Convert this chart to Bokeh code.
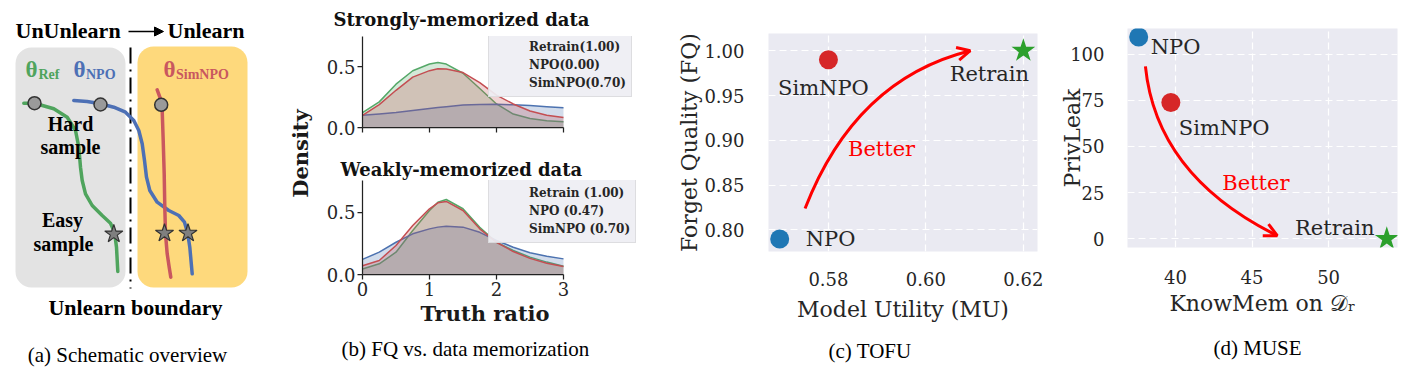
import math
from bokeh.plotting import figure
from bokeh.models import (Range1d, BoxAnnotation, Arrow, NormalHead, OpenHead, Title,
                          Legend, LegendItem, FixedTicker, PrintfTickFormatter, ColumnDataSource)
from bokeh.layouts import row, column
from bokeh.core.properties import value
from bokeh.embed import file_html
from bokeh.resources import INLINE

# ---------------- (b) truth-ratio densities ----------------
truth_ratio = [0, 0.25, 0.5, 0.75, 1.0, 1.125, 1.25, 1.5, 1.75, 2.0, 2.25, 2.5, 2.75, 3.0]
strong_retrain = [0.122, 0.21, 0.355, 0.465, 0.52, 0.533, 0.52, 0.445, 0.32, 0.193, 0.11, 0.074, 0.056, 0.048]
strong_npo = [0.10, 0.111, 0.122, 0.139, 0.156, 0.164, 0.171, 0.185, 0.189, 0.19, 0.186, 0.18, 0.171, 0.161]
strong_simnpo = [0.10, 0.188, 0.305, 0.413, 0.466, 0.482, 0.48, 0.45, 0.368, 0.265, 0.193, 0.135, 0.10, 0.082]
weak_retrain = [0.045, 0.086, 0.18, 0.355, 0.516, 0.583, 0.605, 0.53, 0.38, 0.26, 0.194, 0.14, 0.10, 0.067]
weak_npo = [0.122, 0.18, 0.26, 0.328, 0.368, 0.382, 0.39, 0.382, 0.34, 0.274, 0.22, 0.175, 0.148, 0.126]
weak_simnpo = [0.07, 0.113, 0.234, 0.395, 0.53, 0.578, 0.589, 0.516, 0.368, 0.26, 0.185, 0.13, 0.09, 0.065]
strong_labels = ["Retrain(1.00)", "NPO(0.00)", "SimNPO(0.70)"]
weak_labels = ["Retrain (1.00)", "NPO (0.47)", "SimNPO (0.70)"]
density_ticks_x = [0, 1, 2, 3]
density_ticks_y = [0.0, 0.5]

# ---------------- (c) TOFU / (d) MUSE ----------------
methods = ["NPO", "SimNPO", "Retrain"]
tofu_mu = [0.570, 0.580, 0.620]
tofu_fq = [0.790, 0.990, 1.000]
tofu_ticks_x = [0.58, 0.60, 0.62]
tofu_ticks_y = [0.80, 0.85, 0.90, 0.95, 1.00]
muse_knowmem = [37.6, 39.7, 53.8]
muse_privleak = [109.2, 73.8, 0.0]
muse_ticks_x = [40, 45, 50]
muse_ticks_y = [0, 25, 50, 75, 100]

# ---------------- (a) schematic paths ----------------
ref_path_x = [23.3, 34, 53.3, 66.7, 75, 78.3, 80, 81.7, 85, 91.7, 101.7, 110, 114, 116, 117.3]
ref_path_y = [102.7, 102.7, 108.3, 116.7, 130, 146.7, 166.7, 180, 193.3, 205, 215, 222.7, 231.7, 246.7, 271]
npo_path_x = [73.3, 86.7, 100, 113.3, 125, 133.3, 138.3, 141.7, 144, 146, 149.3, 156.7, 168.3, 178.3, 184, 187.3, 189.3, 191.7]
npo_path_y = [100, 101, 103.3, 106.7, 111.7, 120, 130, 143.3, 160, 176.7, 190, 201.7, 210, 215, 221.7, 233.3, 246.7, 273.3]
sim_path_x = [156.7, 160, 161.7, 162.7, 163.7, 164.3, 165, 166.7, 168.7, 170.3]
sim_path_y = [89.3, 98.3, 110, 140, 173.3, 206.7, 233.3, 253.3, 266.7, 276.7]

SERIF = "DejaVu Serif"
TIMES = "Liberation Serif"
TXT = "#262626"
GREEN, BLUE, RED = "#55A868", "#4C72B0", "#C44E52"

# ======================= panel (a) =======================
pa = figure(width=320, height=374, title=None,
            x_range=Range1d(0, 320), y_range=Range1d(374, 0),
            output_backend="svg", toolbar_location=None, min_border=0,
            x_axis_type=None, y_axis_type=None, outline_line_color=None)
pa.add_layout(BoxAnnotation(left=15, right=125, top=47, bottom=287, fill_color="#e3e3e3",
                            fill_alpha=1, line_color=None, border_radius=16, level="underlay"))
pa.add_layout(BoxAnnotation(left=137, right=247, top=46, bottom=287, fill_color="#fed97c",
                            fill_alpha=1, line_color=None, border_radius=16, level="underlay"))
pa.line([130, 130], [47, 288], line_color="black", line_width=2, line_dash="16 6 2 6")

pa.line(ref_path_x, ref_path_y, line_color="#4fa45d", line_width=3.5, line_join="round", line_cap="round")
pa.line(npo_path_x, npo_path_y, line_color="#4d70b5", line_width=3.5, line_join="round", line_cap="round")
pa.line(sim_path_x, sim_path_y, line_color="#c9575f", line_width=3.5, line_join="round", line_cap="round")
pa.scatter([34, 100, 160.7], [102.7, 104, 104.3], size=13, marker="circle",
           fill_color="#9a9a9a", line_color="#333333", line_width=1.5)
pa.scatter([113.3, 164, 187.5], [233.5, 232.7, 232.7], size=19, marker="star",
           fill_color="#7f7f7f", line_color="#333333", line_width=1.2)

bold_t = dict(text_font=value(TIMES), text_font_style="bold", text_color="black")
pa.text([15], [30], ["UnUnlearn"], text_font_size="22px", text_align="left", text_baseline="middle", **bold_t)
pa.text([167], [30], ["Unlearn"], text_font_size="22px", text_align="left", text_baseline="middle", **bold_t)
pa.add_layout(Arrow(end=NormalHead(size=9, fill_color="black", line_color="black"),
                    x_start=128, y_start=31, x_end=163, y_end=31, line_width=1.5, line_color="black"))
pa.text([70, 70, 62, 63], [123, 146, 219, 243], ["Hard", "sample", "Easy", "sample"],
        text_font_size="20px", text_align="center", text_baseline="middle", **bold_t)
pa.text([135], [307], ["Unlearn boundary"], text_font_size="22px", text_align="center",
        text_baseline="middle", **bold_t)
for tx, sx, sub, col in [(25, 38, "Ref", "#4fa45d"), (73, 85.5, "NPO", "#4d70b5"), (163, 175.5, "SimNPO", "#c9575f")]:
    pa.text([tx], [69], ["θ"], text_font=value(TIMES), text_font_style="bold", text_font_size="23px",
            text_color=col, text_align="left", text_baseline="middle")
    pa.text([sx], [74], [sub], text_font=value(TIMES), text_font_style="bold", text_font_size="14px",
            text_color=col, text_align="left", text_baseline="middle")
pa.text([127], [354], ["(a) Schematic overview"], text_font=value(TIMES), text_font_size="21px",
        text_color="black", text_align="center", text_baseline="middle")
pa.text([300], [153], ["Density"], angle=math.pi / 2, text_font=value(SERIF), text_font_style="bold",
        text_font_size="21px", text_color="#1a1a1a", text_align="center", text_baseline="middle")


# ======================= panel (b) =======================
def density_panel(title, height, btop, bbot, ymax, series, labels, show_xlabels, legend_loc,
                  tstandoff, toffset):
    p = figure(width=340, height=height, x_range=Range1d(0, 4.224), y_range=Range1d(0, ymax),
               output_backend="svg", toolbar_location=None,
               min_border_left=42, min_border_right=15, min_border_top=btop, min_border_bottom=bbot,
               background_fill_color="white", outline_line_color=None)
    p.grid.visible = False
    p.title.text = title
    p.title.align = "left"
    p.title.offset = toffset
    p.title.text_font = SERIF
    p.title.text_font_style = "bold"
    p.title.text_font_size = "18px"
    p.title.text_color = "#111111"
    p.title.standoff = tstandoff
    items = []
    for ys, col, lab in zip(series, [GREEN, BLUE, RED], labels):
        p.varea(x=truth_ratio, y1=[0] * len(ys), y2=ys, fill_color=col, fill_alpha=0.25)
        p.line(truth_ratio, ys, line_color=col, line_width=1.5)
        proxy = p.quad(left=[], right=[], top=[], bottom=[], fill_color=col, fill_alpha=0.3,
                       line_color=col, line_width=1.5)
        items.append(LegendItem(label=lab, renderers=[proxy]))
    leg = Legend(items=items, location=legend_loc, label_text_font=SERIF, label_text_font_style="bold",
                 label_text_font_size="12px", label_text_color=TXT, glyph_width=25, glyph_height=8,
                 label_height=16, label_standoff=10, padding=5, spacing=2, margin=0,
                 border_line_color="#cccccc", border_line_width=1, background_fill_color="#eeeef3",
                 background_fill_alpha=0.92)
    p.add_layout(leg)
    p.xaxis.ticker = FixedTicker(ticks=density_ticks_x)
    p.yaxis.ticker = FixedTicker(ticks=density_ticks_y)
    p.xaxis.formatter = PrintfTickFormatter(format="%d")
    p.yaxis.formatter = PrintfTickFormatter(format="%.1f")
    p.xaxis.bounds = (0, 3)
    for ax in (p.xaxis, p.yaxis):
        ax.axis_line_color = "#222222"
        ax.axis_line_width = 1.25
        ax.major_tick_line_color = "#222222"
        ax.major_tick_line_width = 1.25
        ax.major_tick_out = 5
        ax.major_tick_in = 0
        ax.minor_tick_line_color = None
        ax.major_label_text_font = SERIF
        ax.major_label_text_font_size = "18px"
        ax.major_label_text_color = TXT
        ax.major_label_standoff = 2
    if not show_xlabels:
        p.xaxis.major_label_text_color = None
    return p


pb1 = density_panel("Strongly-memorized data", 150, 33, 23, 0.746,
                    [strong_retrain, strong_npo, strong_simnpo], strong_labels, False, (126, 30), 13, -29)
pb2 = density_panel("Weakly-memorized data", 224, 30, 100, 0.758,
                    [weak_retrain, weak_npo, weak_simnpo], weak_labels, True, (126, 31), 2, -22)
pb2.add_layout(Title(text="Truth ratio", align="left", text_font=SERIF, text_font_size="21px",
                     text_font_style="bold", text_color="#1a1a1a", offset=58, standoff=0), "below")
pb2.add_layout(Title(text="(b) FQ vs. data memorization", align="left", text_font=TIMES,
                     text_font_size="21px", text_font_style="normal", text_color="black",
                     offset=-21, standoff=18), "below")


# ======================= panels (c) / (d) =======================
def scatter_panel(width, mbl, mbr, mbt, mbb, xr, yr, xs, ys, xticks, yticks, xfmt, yfmt,
                  xlabel, ylabel, caption, cap_offset, cap_standoff, tick_standoff_x, tick_standoff_y,
                  xlabel_standoff, ylabel_standoff, label_dx, label_dy, label_align):
    p = figure(width=width, height=374, x_range=Range1d(*xr), y_range=Range1d(*yr), title=None,
               output_backend="svg", toolbar_location=None,
               min_border_left=mbl, min_border_right=mbr, min_border_top=mbt, min_border_bottom=mbb,
               background_fill_color="#EAEAF2", outline_line_color=None)
    p.grid.grid_line_color = "white"
    p.grid.grid_line_width = 1.2
    p.grid.grid_line_dash = "7 4"
    p.xaxis.ticker = FixedTicker(ticks=xticks)
    p.yaxis.ticker = FixedTicker(ticks=yticks)
    p.xaxis.formatter = PrintfTickFormatter(format=xfmt)
    p.yaxis.formatter = PrintfTickFormatter(format=yfmt)
    for ax in (p.xaxis, p.yaxis):
        ax.axis_line_color = None
        ax.major_tick_line_color = None
        ax.minor_tick_line_color = None
        ax.major_label_text_font = SERIF
        ax.major_label_text_font_size = "18px"
        ax.major_label_text_color = TXT
        ax.axis_label_text_font = SERIF
        ax.axis_label_text_font_size = "22px"
        ax.axis_label_text_font_style = "normal"
        ax.axis_label_text_color = TXT
    p.xaxis.major_label_standoff = tick_standoff_x
    p.yaxis.major_label_standoff = tick_standoff_y
    p.xaxis.axis_label = xlabel
    p.yaxis.axis_label = ylabel
    p.xaxis.axis_label_standoff = xlabel_standoff
    p.yaxis.axis_label_standoff = ylabel_standoff
    src = ColumnDataSource(dict(x=xs, y=ys, name=methods,
                                color=["#1f77b4", "#d62728", "#2ca02c"],
                                marker=["circle", "circle", "star"], size=[19, 19, 25],
                                dx=label_dx, dy=label_dy, align=label_align))
    p.scatter("x", "y", source=src, marker="marker", size="size", fill_color="color", line_color=None)
    p.text("x", "y", text="name", source=src, x_offset="dx", y_offset="dy", text_align="align",
           text_baseline="middle", text_font=value(SERIF), text_font_size="21px", text_color=TXT)
    p.add_layout(Title(text=caption, align="left", text_font=TIMES, text_font_size="21px",
                       text_font_style="normal", text_color="black", offset=cap_offset,
                       standoff=cap_standoff), "below")
    return p


pc = scatter_panel(390, 108, 13, 33, 117, (0.5677, 0.6229), (0.776, 1.0192), tofu_mu, tofu_fq,
                   tofu_ticks_x, tofu_ticks_y, "%.2f", "%.2f", "Model Utility (MU)",
                   "Forget Quality (FQ)", "(c) TOFU", 60, 24, 14, 18, 8, -1,
                   [26, -5, -34], [0, 28, 23], ["left", "center", "center"])
pc.quadratic(x0=[0.5752], y0=[0.824], cx=[0.5855], cy=[0.968], x1=[0.6091], y1=[1.0],
             line_color="red", line_width=3)
pc.add_layout(Arrow(end=OpenHead(size=13, line_color="red", line_width=3), x_start=0.5855, y_start=0.968,
                    x_end=0.6091, y_end=1.0, line_alpha=0))
pc.text([0.5909], [0.890], ["Better"], text_align="center", text_baseline="middle",
        text_font=value(SERIF), text_font_size="21px", text_color="red")

pd = scatter_panel(361, 77, 14, 28, 120, (36.87, 54.5), (-4.7, 113.8), muse_knowmem, muse_privleak,
                   muse_ticks_x, muse_ticks_y, "%d", "%d", "KnowMem on 𝒟ᵣ", "PrivLeak",
                   "(d) MUSE", 86, 30, 16, 17, 4, -18,
                   [12, 8, -52], [10, 26, -11], ["left", "left", "center"])
pd.quadratic(x0=[38.04], y0=[93.3], cx=[38.76], cy=[34.1], x1=[46.65], y1=[1.7],
             line_color="red", line_width=3)
pd.add_layout(Arrow(end=OpenHead(size=13, line_color="red", line_width=3), x_start=38.76, y_start=34.1,
                    x_end=46.65, y_end=1.7, line_alpha=0))
pd.text([45.25], [30.4], ["Better"], text_align="center", text_baseline="middle",
        text_font=value(SERIF), text_font_size="21px", text_color="red")

layout = row(column(pa), column(pb1, pb2), column(pc), column(pd))
open("out.html", "w").write(file_html(layout, INLINE))
